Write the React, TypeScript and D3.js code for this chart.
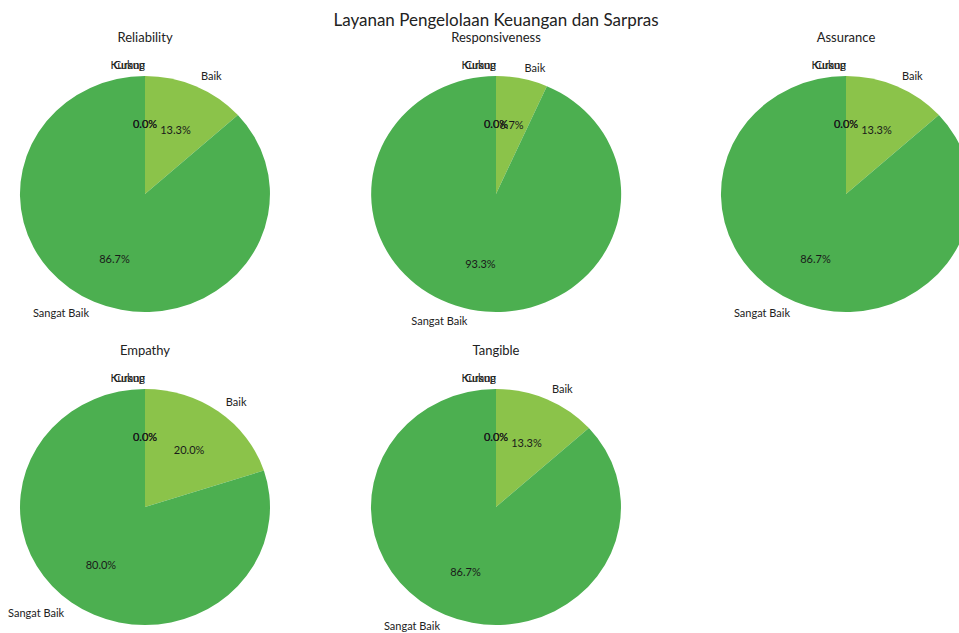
import React from "react";
import * as d3 from "d3";

const categories = ["Kurang", "Cukup", "Baik", "Sangat Baik"];
const colors = ["#e53935", "#ffc107", "#8bc34a", "#4caf50"];
const aspects = ["Reliability", "Responsiveness", "Assurance", "Empathy", "Tangible"];
const reliability = [0, 0, 2, 13];
const responsiveness = [0, 0, 1, 14];
const assurance = [0, 0, 2, 13];
const empathy = [0, 0, 3, 12];
const tangible = [0, 0, 2, 13];
const seriesValues = [reliability, responsiveness, assurance, empathy, tangible];
const mainTitle = "Layanan Pengelolaan Keuangan dan Sarpras";

const W = 959;
const H = 633;
const RX = 125;
const RY = 118;
const colX = [145, 496, 846];
const rowY = [194, 507];
const FONT = "Lato, 'Noto Sans', sans-serif";

function Pie({ values, title, cx, cy }: { values: number[]; title: string; cx: number; cy: number }) {
  const total = d3.sum(values);
  const arcs = d3.pie<number>().sort(null).startAngle(0).endAngle(2 * Math.PI)(values);
  const arcGen = d3.arc<d3.PieArcDatum<number>>().innerRadius(0).outerRadius(1);
  return (
    <g>
      <text x={cx} y={cy - 157} textAnchor="middle" dominantBaseline="central" fontSize={13} fill="#222">
        {title}
      </text>
      <g transform={`translate(${cx},${cy}) scale(${RX},${RY})`}>
        {arcs.map((a, i) => (
          <path key={i} d={arcGen(a) || ""} fill={colors[i]} />
        ))}
      </g>
      {arcs.map((a, i) => {
        const mid = (a.startAngle + a.endAngle) / 2;
        const sx = Math.sin(mid);
        const sy = -Math.cos(mid);
        const lx = cx + sx * 1.1 * RX;
        const ly = cy + sy * 1.1 * RY;
        const px = cx + sx * 0.6 * RX;
        const py = cy + sy * 0.6 * RY;
        const anchor = sx > 1e-9 ? "start" : "end";
        return (
          <g key={i}>
            <text x={lx} y={ly} textAnchor={anchor} dominantBaseline="central" fontSize={11} fill="#222">
              {categories[i]}
            </text>
            <text x={px} y={py} textAnchor="middle" dominantBaseline="central" fontSize={11} fill="#1a1a1a">
              {((values[i] / total) * 100).toFixed(1) + "%"}
            </text>
          </g>
        );
      })}
    </g>
  );
}

export default function App() {
  return (
    <svg
      width={W}
      height={H}
      style={{ position: "absolute", left: 0, top: 0, background: "#fff", fontFamily: FONT }}
    >
      <rect width={W} height={H} fill="#fff" />
      <text x={496} y={19} textAnchor="middle" dominantBaseline="central" fontSize={17} fill="#222">
        {mainTitle}
      </text>
      {seriesValues.map((vals, i) => (
        <Pie key={i} values={vals} title={aspects[i]} cx={colX[i % 3]} cy={rowY[Math.floor(i / 3)]} />
      ))}
    </svg>
  );
}
